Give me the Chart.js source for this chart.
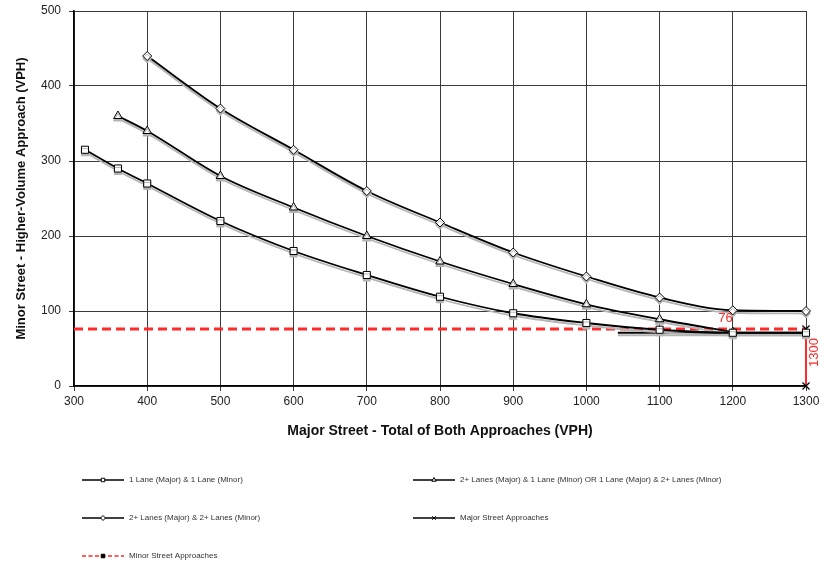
<!DOCTYPE html>
<html>
<head>
<meta charset="utf-8">
<script src="https://cdn.jsdelivr.net/npm/chart.js@4.4.1/dist/chart.umd.min.js"></script>
<style>
  html, body { margin: 0; padding: 0; background: #fff; }
  #wrap { width: 837px; height: 564px; }
</style>
</head>
<body>
<div id="wrap"><canvas id="warrantChart" width="837" height="564"></canvas></div>
<script>
// Peak hour volume warrant curves
const oneLaneX = [315, 360, 400, 500, 600, 700, 800, 900, 1000, 1100, 1200, 1300];
const oneLaneY = [315, 290, 270, 220, 180, 148, 119, 97, 84, 75, 71, 71];

const mixedLaneX = [360, 400, 500, 600, 700, 800, 900, 1000, 1100, 1200];
const mixedLaneY = [360, 340, 280, 238, 200, 166, 136, 109, 89, 72];

const twoLaneX = [400, 500, 600, 700, 800, 900, 1000, 1100, 1200, 1300];
const twoLaneY = [440, 370, 315, 260, 218, 178, 146, 118, 101, 100];

// lower limit segment of the curves
const floorX = [1043, 1300];
const floorY = [71, 71];

// site volumes
const majorX = [1300, 1300];
const majorY = [76, 0];
const minorX = [300, 1300];
const minorY = [76, 76];

const xTicks = [300, 400, 500, 600, 700, 800, 900, 1000, 1100, 1200, 1300];
const yTicks = [0, 100, 200, 300, 400, 500];

const labels = [
    "1 Lane (Major) & 1 Lane (Minor)",
    "2+ Lanes (Major) & 1 Lane (Minor) OR 1 Lane (Major) & 2+ Lanes (Minor)",
    "2+ Lanes (Major) & 2+ Lanes (Minor)",
    "Major Street Approaches",
    "Minor Street Approaches"
];

const red = "#ff2a2a";
const fontFamily = "'Liberation Sans', Arial, sans-serif";

function toPoints(xs, ys) {
    let pts = [];
    for (let i = 0; i < xs.length; i++) {
        pts.push({ x: xs[i], y: ys[i] });
    }
    return pts;
}

function curve(label, xs, ys, style, radius) {
    return {
        label: label,
        data: toPoints(xs, ys),
        borderColor: "#000",
        borderWidth: 1.8,
        cubicInterpolationMode: "monotone",
        pointStyle: style,
        pointRadius: radius,
        pointBackgroundColor: "#fff",
        pointBorderColor: "#000",
        pointBorderWidth: 1,
        clip: false,
        doubleLine: true
    };
}

// draws the light second stroke under each curve
const doubleLinePlugin = {
    id: "doubleLine",
    beforeDatasetDraw(chart, args) {
        const ds = chart.data.datasets[args.index];
        if (!ds.doubleLine) return;
        const ctx = chart.ctx;
        ctx.save();
        ctx.shadowColor = "#b4b4b4";
        ctx.shadowOffsetX = 0;
        ctx.shadowOffsetY = 2.5;
        ctx.shadowBlur = 0;
    },
    afterDatasetDraw(chart, args) {
        const ds = chart.data.datasets[args.index];
        if (!ds.doubleLine) return;
        chart.ctx.restore();
    }
};

// value labels on the site volume lines
const valueLabelPlugin = {
    id: "valueLabels",
    afterDatasetsDraw(chart) {
        const ctx = chart.ctx;
        const xs = chart.scales.x;
        const ys = chart.scales.y;
        ctx.save();
        ctx.fillStyle = red;
        ctx.font = "13px " + fontFamily;
        ctx.textAlign = "center";
        ctx.textBaseline = "middle";
        ctx.fillText(String(minorY[1]), xs.getPixelForValue(1190), ys.getPixelForValue(minorY[1]) - 11);

        ctx.translate(xs.getPixelForValue(majorX[0]) + 8, ys.getPixelForValue(majorY[0] / 2) - 5);
        ctx.rotate(-Math.PI / 2);
        ctx.fillText(String(majorX[0]), 0, 0);
        ctx.restore();
    }
};

// two column legend under the chart
const legendPlugin = {
    id: "gridLegend",
    afterDraw(chart) {
        const ctx = chart.ctx;
        const cols = [82, 413];
        const rows = [480, 518, 556];
        ctx.save();
        ctx.font = "8px " + fontFamily;
        ctx.textBaseline = "middle";
        ctx.textAlign = "left";
        labels.forEach((text, i) => {
            const ds = chart.data.datasets[i];
            const x = cols[i % 2];
            const y = rows[Math.floor(i / 2)];
            ctx.save();
            ctx.strokeStyle = ds.legendColor || "#000";
            ctx.lineWidth = 1.5;
            ctx.setLineDash(ds.borderDash ? [4, 2.5] : []);
            ctx.beginPath();
            ctx.moveTo(x, y);
            ctx.lineTo(x + 42, y);
            ctx.stroke();
            ctx.restore();
            ctx.save();
            ctx.fillStyle = ds.legendMarkerFill || "#fff";
            ctx.strokeStyle = "#000";
            ctx.lineWidth = 1;
            Chart.helpers.drawPoint(ctx, {
                pointStyle: ds.legendMarker || ds.pointStyle,
                radius: 2.5,
                rotation: 0,
                borderWidth: 1
            }, x + 21, y);
            ctx.restore();
            ctx.fillStyle = "#333";
            ctx.fillText(text, x + 47, y);
        });
        ctx.restore();
    }
};

new Chart(document.getElementById("warrantChart"), {
    type: "line",
    data: {
        datasets: [
            curve(labels[0], oneLaneX, oneLaneY, "rect", 5),
            curve(labels[1], mixedLaneX, mixedLaneY, "triangle", 5),
            curve(labels[2], twoLaneX, twoLaneY, "rectRot", 4.5),
            {
                label: labels[3],
                data: toPoints(majorX, majorY),
                borderColor: red,
                borderWidth: 2,
                pointStyle: "crossRot",
                pointRadius: 5,
                pointBorderColor: "#000",
                pointBorderWidth: 1.2,
                clip: false,
                legendMarker: "crossRot",
                legendColor: "#000"
            },
            {
                label: labels[4],
                data: toPoints(minorX, minorY),
                borderColor: red,
                borderWidth: 3,
                borderDash: [9, 5],
                pointRadius: 0,
                legendMarker: "rect",
                legendMarkerFill: "#000",
                legendColor: red
            },
            {
                label: "",
                data: toPoints(floorX, floorY),
                borderColor: "#000",
                borderWidth: 2.2,
                pointRadius: 0,
                clip: false,
                doubleLine: true
            }
        ]
    },
    options: {
        responsive: false,
        animation: false,
        layout: { padding: { top: 11, right: 31, bottom: 118, left: 0 } },
        plugins: {
            legend: { display: false },
            tooltip: { enabled: false }
        },
        scales: {
            x: {
                type: "linear",
                min: 300,
                max: 1300,
                afterFit(scale) { scale.height = 60; },
                afterBuildTicks(scale) { scale.ticks = xTicks.map(v => ({ value: v })); },
                grid: { color: "#3a3a3a", lineWidth: 1, tickLength: 5 },
                border: { color: "#000", width: 1.5 },
                ticks: {
                    color: "#222",
                    padding: 3,
                    font: { family: fontFamily, size: 12 },
                    callback: v => String(v)
                },
                title: {
                    display: true,
                    text: "Major Street - Total of Both Approaches (VPH)",
                    color: "#111",
                    padding: { top: 4, bottom: 6 },
                    font: { family: fontFamily, size: 14, weight: "bold" }
                }
            },
            y: {
                min: 0,
                max: 500,
                afterFit(scale) { scale.width = 74; },
                afterBuildTicks(scale) { scale.ticks = yTicks.map(v => ({ value: v })); },
                grid: { color: "#3a3a3a", lineWidth: 1, tickLength: 5 },
                border: { color: "#000", width: 1.5 },
                ticks: {
                    color: "#222",
                    padding: 8,
                    font: { family: fontFamily, size: 12, lineHeight: 0.4 },
                    callback: v => String(v)
                },
                title: {
                    display: true,
                    text: "Minor Street - Higher-Volume Approach (VPH)",
                    color: "#111",
                    padding: { top: 14, bottom: 4 },
                    font: { family: fontFamily, size: 13, weight: "bold" }
                }
            }
        }
    },
    plugins: [doubleLinePlugin, valueLabelPlugin, legendPlugin]
});
</script>
</body>
</html>
